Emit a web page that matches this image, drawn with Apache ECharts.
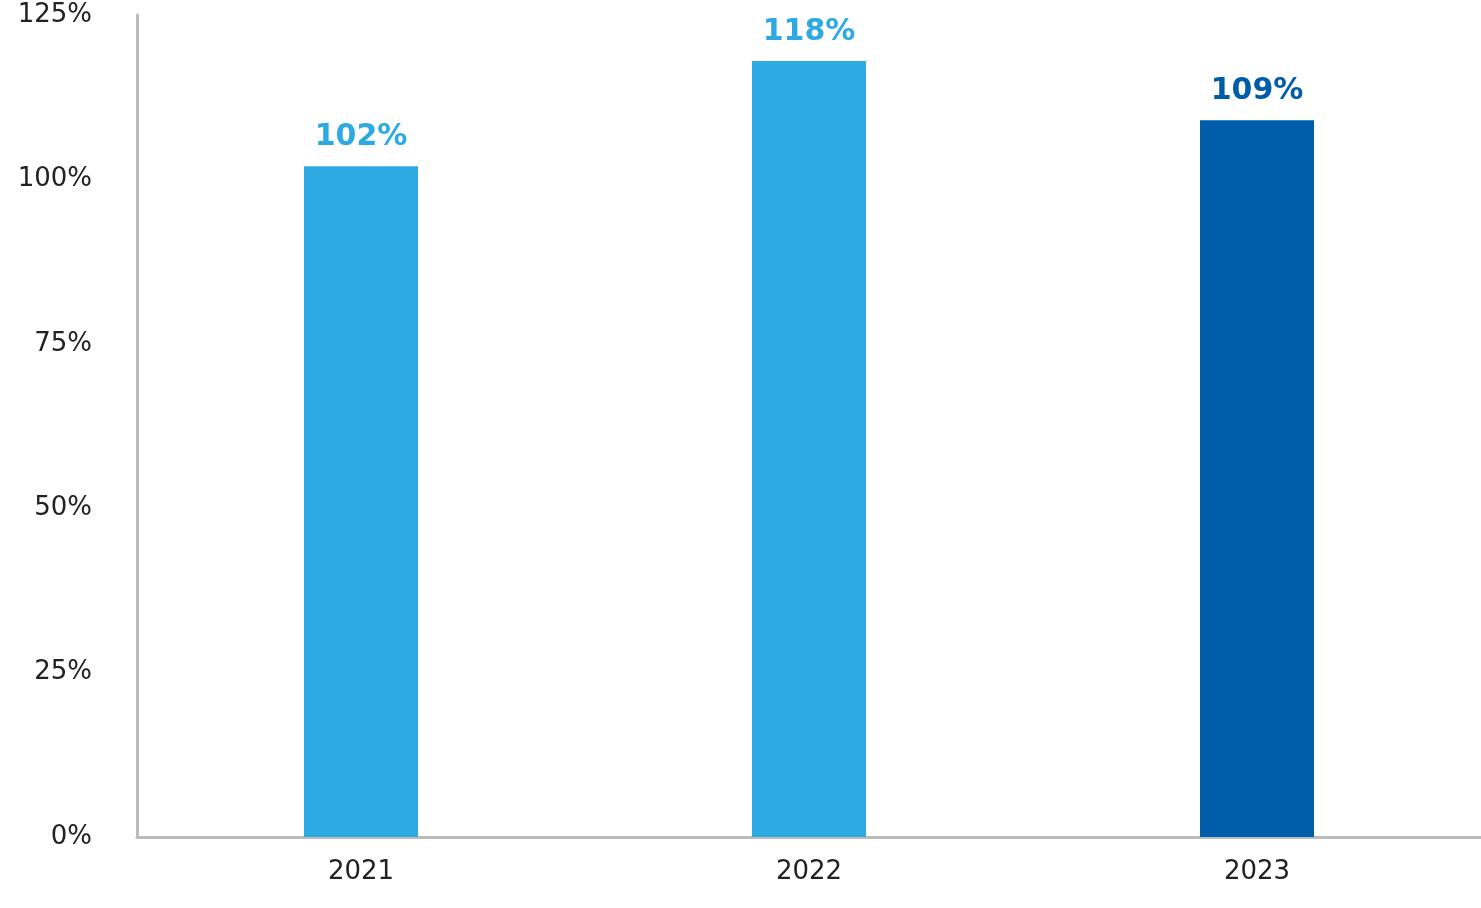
<!DOCTYPE html>
<html><head><meta charset="utf-8">
<script src="https://cdn.jsdelivr.net/npm/echarts@6/dist/echarts.min.js"></script>
<style>html,body{margin:0;padding:0;background:#fff}#chart1{width:1481px;height:908px}</style>
</head><body><div id="chart1"></div>
<script>
var categories = ['2021', '2022', '2023'];
var values = [102, 118, 109];
var barColors = ['#2eaae3', '#2eaae3', '#005daa'];

var option = {
	textStyle: { fontFamily: 'DejaVu Sans' },
	grid: { left: 137, right: 0, top: 15, bottom: 71 },
	xAxis: {
		type: 'category',
		data: categories,
		axisLine: { lineStyle: { color: '#bbbbbb', width: 3 } },
		axisTick: { show: false },
		axisLabel: { color: '#222', fontSize: 26, margin: 22 }
	},
	yAxis: {
		type: 'value',
		min: 0, max: 125, interval: 25,
		axisLine: { show: true, lineStyle: { color: '#bbbbbb', width: 3 } },
		axisTick: { show: false },
		splitLine: { show: false },
		axisLabel: { color: '#222', fontSize: 26, margin: 45, formatter: '{value}%' }
	},
	series: [{
		type: 'bar',
		barWidth: 114,
		data: values.map(function (v, i) {
			return { value: v, itemStyle: { color: barColors[i] }, label: { color: barColors[i] } };
		}),
		label: { show: true, position: 'top', distance: 14, fontSize: 30, fontWeight: 'bold', formatter: '{c}%' }
	}]
};
var chart1 = echarts.init(document.getElementById('chart1'));
chart1.setOption(option);
</script></body></html>
